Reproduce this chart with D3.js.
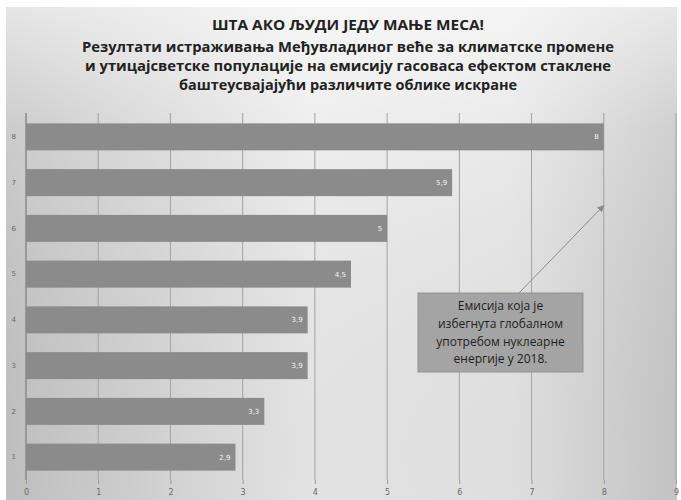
<!DOCTYPE html>
<html>
<head>
<meta charset="utf-8">
<script src="https://cdn.jsdelivr.net/npm/d3@7"></script>
<style>
  body { margin: 0; background: #fff; }
  svg { display: block; }
</style>
</head>
<body>
<div id="viz"></div>
<script>
'use strict';

const titleLines = [
  'ШТА АКО ЉУДИ ЈЕДУ МАЊЕ МЕСА!',
  'Резултати истраживања Међувладиног веће за климатске промене',
  'и утицајсветске популације на емисију гасоваса ефектом стаклене',
  'баштеусвајајући различите облике искране'
];

const categories = ['1', '2', '3', '4', '5', '6', '7', '8'];
const values = [2.9, 3.3, 3.9, 3.9, 4.5, 5, 5.9, 8];
const valueLabels = ['2,9', '3,3', '3,9', '3,9', '4,5', '5', '5,9', '8'];
const xTicks = [0, 1, 2, 3, 4, 5, 6, 7, 8, 9];
const noteLines = ['Емисија која је', 'избегнута глобалном', 'употребом нуклеарне', 'енергије у 2018.'];
// note arrow points at this (value, category) position
const arrowTarget = {value: 8, category: '6', dy: -0.35};

const W = 681, H = 500;
const margin = {top: 114, right: 5, bottom: 20, left: 26};

const svg = d3.select('#viz')
  .append('svg')
    .attr('width', W)
    .attr('height', H);

const defs = svg.append('defs');
const grad = defs.append('linearGradient')
  .attr('id', 'bg')
  .attr('x1', '0').attr('y1', '0').attr('x2', '1').attr('y2', '0');
grad.append('stop').attr('offset', '0%').attr('stop-color', '#c6c6c6');
grad.append('stop').attr('offset', '45%').attr('stop-color', '#ececec');
grad.append('stop').attr('offset', '75%').attr('stop-color', '#e8e8e8');
grad.append('stop').attr('offset', '100%').attr('stop-color', '#cacaca');

const vgrad = defs.append('linearGradient')
  .attr('id', 'shade')
  .attr('x1', '0').attr('y1', '0').attr('x2', '0').attr('y2', '1');
vgrad.append('stop').attr('offset', '0%').attr('stop-color', '#fff').attr('stop-opacity', 0.55);
vgrad.append('stop').attr('offset', '25%').attr('stop-color', '#fff').attr('stop-opacity', 0.1);
vgrad.append('stop').attr('offset', '100%').attr('stop-color', '#000').attr('stop-opacity', 0.04);

const marker = defs.append('marker')
  .attr('id', 'arrow')
  .attr('viewBox', '0 0 10 10')
  .attr('refX', 9).attr('refY', 5)
  .attr('markerWidth', 7).attr('markerHeight', 7)
  .attr('orient', 'auto-start-reverse');
marker.append('path').attr('d', 'M0,0L10,5L0,10z').attr('fill', '#8a8a8a');

// panel background
svg.append('rect')
  .attr('x', 6).attr('y', 7)
  .attr('width', 671).attr('height', 493)
  .attr('fill', 'url(#bg)');
svg.append('rect')
  .attr('x', 6).attr('y', 7)
  .attr('width', 671).attr('height', 493)
  .attr('fill', 'url(#shade)');

// title
const titleY = [25, 47, 66, 85];
const titleW = [272, 532, 526, 338];
svg.append('g')
  .selectAll('text')
  .data(titleLines)
  .join('text')
    .attr('x', 348)
    .attr('y', (d, i) => titleY[i])
    .attr('dy', '0.35em')
    .attr('text-anchor', 'middle')
    .attr('textLength', (d, i) => titleW[i])
    .attr('lengthAdjust', 'spacingAndGlyphs')
    .attr('font-family', '"Open Sans", sans-serif')
    .attr('font-weight', 'bold')
    .attr('font-size', (d, i) => i === 0 ? 14 : 15)
    .attr('fill', '#222')
    .text(d => d);

const x = d3.scaleLinear()
  .domain([0, 9])
  .range([margin.left, W - margin.right]);

const y = d3.scaleBand()
  .domain(categories.slice().reverse())
  .range([margin.top, H - margin.bottom])
  .paddingInner(0.41)
  .paddingOuter(0.205);

// gridlines
svg.append('g')
  .selectAll('line')
  .data(xTicks.slice(1))
  .join('line')
    .attr('x1', d => x(d)).attr('x2', d => x(d))
    .attr('y1', margin.top - 1).attr('y2', H - margin.bottom)
    .attr('stroke', '#a2a2a2')
    .attr('stroke-width', 1);

// x axis labels
const xAxis = svg.append('g')
  .attr('transform', `translate(0,${H - margin.bottom})`)
  .call(d3.axisBottom(x).tickValues(xTicks).tickSize(4).tickFormat(d3.format('d')));
xAxis.select('.domain').remove();
xAxis.selectAll('line').attr('stroke', '#999');
xAxis.selectAll('text')
  .attr('fill', '#6a6a6a')
  .attr('font-size', 8)
  .attr('font-family', '"DejaVu Sans", sans-serif')
  .attr('dy', '1em');

// bars
svg.append('g')
  .selectAll('rect')
  .data(values)
  .join('rect')
    .attr('x', x(0))
    .attr('y', (d, i) => y(categories[i]))
    .attr('width', d => x(d) - x(0))
    .attr('height', y.bandwidth())
    .attr('fill', '#8b8b8b');

// value labels
svg.append('g')
  .selectAll('text')
  .data(values)
  .join('text')
    .attr('x', d => x(d) - 5)
    .attr('y', (d, i) => y(categories[i]) + y.bandwidth() / 2)
    .attr('dy', '0.35em')
    .attr('text-anchor', 'end')
    .attr('font-size', 7)
    .attr('font-family', '"DejaVu Sans", sans-serif')
    .attr('fill', '#f4f4f4')
    .text((d, i) => valueLabels[i]);

// y axis
const yAxis = svg.append('g')
  .attr('transform', `translate(${x(0)},0)`)
  .call(d3.axisLeft(y).tickSize(0).tickPadding(10));
yAxis.select('.domain')
  .attr('d', `M0,${margin.top - 1}V${H - margin.bottom}`)
  .attr('stroke', '#8a8a8a')
  .attr('stroke-width', 1.5);
yAxis.selectAll('text')
  .attr('fill', '#666')
  .attr('font-size', 7)
  .attr('font-family', '"DejaVu Sans", sans-serif');

// annotation
const box = {x: 418, y: 293, w: 165, h: 79};
const tgtX = x(arrowTarget.value);
const tgtY = y(arrowTarget.category) + y.bandwidth() * arrowTarget.dy;
svg.append('line')
  .attr('x1', 519).attr('y1', box.y)
  .attr('x2', tgtX).attr('y2', tgtY)
  .attr('stroke', '#8a8a8a')
  .attr('stroke-width', 1)
  .attr('marker-end', 'url(#arrow)');

svg.append('rect')
  .attr('x', box.x).attr('y', box.y)
  .attr('width', box.w).attr('height', box.h)
  .attr('fill', '#a4a4a4')
  .attr('stroke', '#929292')
  .attr('stroke-width', 1);

svg.append('g')
  .selectAll('text')
  .data(noteLines)
  .join('text')
    .attr('x', box.x + box.w / 2)
    .attr('y', (d, i) => 306 + i * 17.7)
    .attr('dy', '0.35em')
    .attr('text-anchor', 'middle')
    .attr('font-family', '"Open Sans", sans-serif')
    .attr('font-size', 12)
    .attr('fill', '#1e1e1e')
    .text(d => d);
</script>
</body>
</html>
